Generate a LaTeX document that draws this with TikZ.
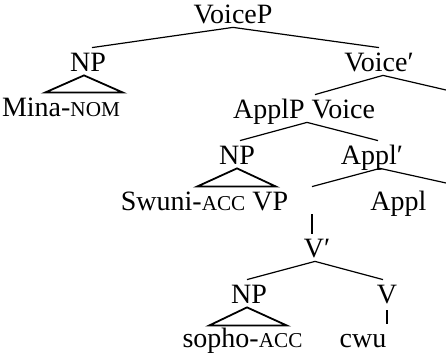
\documentclass[tikz,border=0pt]{standalone}
\usepackage{fontspec}
\setmainfont{Liberation Serif}
\usetikzlibrary{calc}

\newcommand{\smcap}[1]{{\fontsize{10.6pt}{12pt}\selectfont #1}}

\begin{document}
\begin{tikzpicture}[x=0.5pt, y=-0.5pt,
    lbl/.style={inner sep=0pt, anchor=base, text height=12pt, text depth=1.5pt,
      font=\fontsize{14pt}{16pt}\selectfont},
    branch/.style={line width=0.6pt},
    tri/.style={line width=0.9pt, line join=miter}]
  \useasboundingbox (0,0) rectangle (446,356);

  % labels
  \node[lbl] (voicep) at (233,24) {VoiceP};
  \node[lbl] (np1) at (88,72) {NP};
  \node[lbl] (mina) at (61,117) {Mina-\smcap{NOM}};
  \node[lbl] (voicebar) at (379,72) {Voice′};
  \node[lbl] (applp) at (304,119) {ApplP Voice};
  \node[lbl] (np2) at (237,165) {NP};
  \node[lbl] (applbar) at (372,165) {Appl′};
  \node[lbl] (swuni) at (204.5,211) {Swuni-\smcap{ACC} VP};
  \node[lbl] (appl) at (398.5,211) {Appl};
  \node[lbl] (vp) at (312,211) {};
  \node[lbl] (vbar) at (317,258) {V′};
  \node[lbl] (np3) at (249,304) {NP};
  \node[lbl] (v) at (387,304) {V};
  \node[lbl] (sopho) at (242.5,348) {sopho-\smcap{ACC}};
  \node[lbl] (cwu) at (363,348) {cwu};

  \coordinate (cut1) at (446,90);
  \coordinate (cut2) at (446,183);

  % branches
  \draw[branch] (voicep.south) -- ([xshift=2pt]np1.north);
  \draw[branch] (voicep.south) -- (voicebar.north);
  \draw[branch] ([xshift=2pt]voicebar.south) -- ([xshift=5.5pt]applp.north);
  \draw[branch] ([xshift=2pt]voicebar.south) -- (cut1);
  \draw[branch] ([xshift=1.5pt]applp.south) -- ([xshift=1.5pt]np2.north);
  \draw[branch] ([xshift=1.5pt]applp.south) -- ([xshift=3pt]applbar.north);
  \draw[branch] ([xshift=4pt]applbar.south) -- (vp.north);
  \draw[branch] ([xshift=4pt]applbar.south) -- (cut2);
  \draw[branch] (vp.south) -- (vp.south |- vbar.north);
  \draw[branch] ([xshift=-1pt]vbar.south) -- ([xshift=-1pt]np3.north);
  \draw[branch] ([xshift=-1pt]vbar.south) -- ([xshift=-2pt]v.north);
  \draw[branch] ([yshift=-1.5pt]v.south) -- (v.south |- cwu.north);

  % triangles
  \draw[tri] ([xshift=-2pt]np1.south) -- ($(np1.south |- mina.north)+(-43,0)$)
    -- ($(np1.south |- mina.north)+(35,0)$) -- cycle;
  \draw[tri] (np2.south) -- ($(np2.south |- swuni.north)+(-40,0)$)
    -- ($(np2.south |- swuni.north)+(39,0)$) -- cycle;
  \draw[tri] ([xshift=-1pt]np3.south) -- ($(np3.south |- sopho.north)+(-40,2)$)
    -- ($(np3.south |- sopho.north)+(38,2)$) -- cycle;
\end{tikzpicture}
\end{document}
